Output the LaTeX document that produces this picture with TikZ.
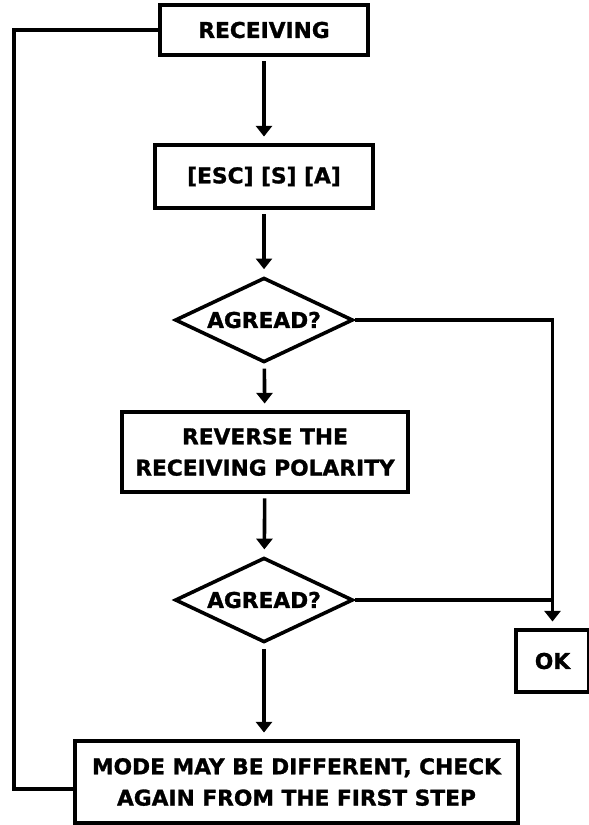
\documentclass[tikz,border=0pt]{standalone}
\usepackage{fontspec}
\setmainfont{DejaVu Sans}
\newfontfamily\heavyfont{DejaVu Sans Bold}[FakeBold=1.2]
\usetikzlibrary{arrows.meta,shapes.geometric}

\begin{document}
\begin{tikzpicture}[x=0.75pt,y=-0.75pt,
  box/.style={draw,line width=2.7pt,inner sep=0pt,align=center,
    font=\fontsize{16.3}{23.5}\selectfont\heavyfont},
  ask/.style={box,diamond,shape aspect=2.1,minimum width=133.5pt,minimum height=63.5pt},
  link/.style={line width=2.7pt},
  arr/.style={link,-{Triangle[width=12pt,length=8pt]},shorten <=3.5pt,shorten >=5pt}]
  \useasboundingbox (0,0) rectangle (589,825);
  \node[box,minimum width=156pt,minimum height=37.5pt] (recv) at (264,30) {RECEIVING};
  \node[box,minimum width=163.5pt,minimum height=47.25pt] (esc) at (264,176.5) {[ESC] [S] [A]};
  \node[ask] (ask1) at (264,320) {AGREAD?};
  \node[box,minimum width=214.5pt,minimum height=60pt] (rev) at (265,452) {REVERSE THE\\RECEIVING POLARITY};
  \node[ask] (ask2) at (264,600) {AGREAD?};
  \node[box,minimum width=54.75pt,minimum height=46.5pt] (ok) at (552.5,661) {OK};
  \node[box,minimum width=332.25pt,minimum height=61.5pt] (mode) at (296.5,782)
    {MODE MAY BE DIFFERENT, CHECK\\AGAIN FROM THE FIRST STEP};
  \coordinate (back) at (14,789);
  \draw[arr] (recv) -- (esc);
  \draw[arr] (esc) -- (ask1);
  \draw[arr] (ask1) -- (rev);
  \draw[arr] (rev) -- (ask2);
  \draw[arr] (ask2.south) -- (ask2.south |- mode.north);
  \draw[arr,shorten <=0pt] (ask1.east) -| (ok.north);
  \draw[link] (ask2.east) -- (ask2.east -| ok.north);
  \draw[link] (back -| mode.west) -- (back) |- (recv.west);
\end{tikzpicture}
\end{document}
